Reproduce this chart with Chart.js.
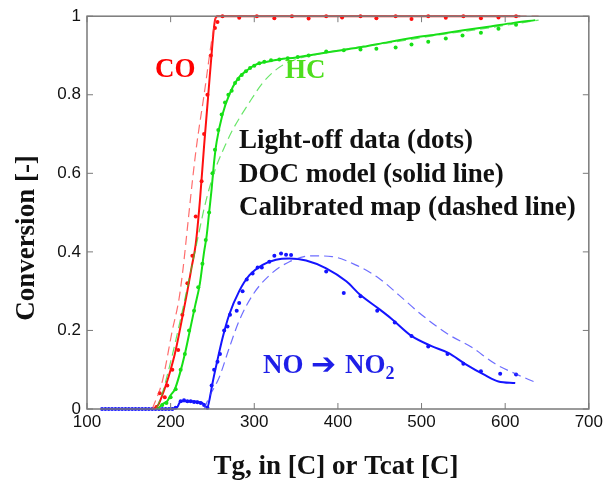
<!DOCTYPE html>
<html>
<head>
<meta charset="utf-8">
<script src="https://cdn.jsdelivr.net/npm/chart.js"></script>
<style>
    html, body { margin: 0; padding: 0; background: #fff; }
    #caixa { width: 606px; height: 484px; }
</style>
</head>
<body>
<div id="caixa"><canvas id="grafico"></canvas></div>
<script>
const xTicks = [100, 200, 300, 400, 500, 600, 700];
const yTicks = [0, 0.2, 0.4, 0.6, 0.8, 1];

// CO
const coModeloT = [180, 185, 190, 195, 200, 205, 210, 215, 220, 225, 230, 235, 240, 245, 250, 253, 256, 300, 400, 500, 600, 618];
const coModelo  = [0, 0.01, 0.035, 0.065, 0.1, 0.14, 0.19, 0.245, 0.3, 0.36, 0.42, 0.53, 0.67, 0.8, 0.93, 0.99, 1, 1, 1, 1, 1, 1];
const coMapaT = [178, 190, 202, 210, 215, 220, 226, 231, 240, 250, 255, 300, 400, 500, 600, 640];
const coMapa  = [0, 0.07, 0.2, 0.28, 0.36, 0.46, 0.58, 0.67, 0.8, 0.95, 1, 1, 1, 1, 1, 1];
const coDadosT = [183, 187, 193, 196, 202, 209, 214, 220, 226, 230, 237, 240, 244, 248, 253, 256, 262, 282, 303, 324, 345, 365, 386, 405, 427, 446, 469, 488, 508, 529, 550, 571, 592, 613];
const coDados  = [0.005, 0.04, 0.03, 0.06, 0.1, 0.15, 0.24, 0.32, 0.39, 0.49, 0.58, 0.7, 0.8, 0.9, 0.97, 0.985, 1, 0.996, 1, 0.995, 1, 0.994, 1, 0.997, 1, 0.995, 1, 0.993, 1, 0.996, 1, 0.995, 0.997, 1];

// HC
const hcModeloT = [185, 190, 196, 200, 205, 211, 217, 223, 229, 235, 240, 243, 246, 249, 252, 255, 262, 270, 280, 290, 300, 310, 330, 350, 370, 400, 430, 460, 490, 520, 550, 580, 610, 636];
const hcModelo  = [0, 0.012, 0.02, 0.035, 0.05, 0.09, 0.14, 0.2, 0.26, 0.32, 0.4, 0.44, 0.5, 0.56, 0.63, 0.68, 0.75, 0.8, 0.84, 0.86, 0.875, 0.882, 0.89, 0.895, 0.902, 0.912, 0.922, 0.934, 0.945, 0.954, 0.964, 0.973, 0.983, 0.99];
const hcMapaT = [183, 190, 200, 213, 222, 231, 240, 246, 255, 265, 274, 285, 294, 310, 330, 350, 380, 420, 470, 520, 570, 610, 640];
const hcMapa  = [0, 0.04, 0.12, 0.24, 0.33, 0.42, 0.51, 0.56, 0.62, 0.67, 0.71, 0.75, 0.78, 0.83, 0.87, 0.89, 0.905, 0.92, 0.935, 0.952, 0.967, 0.98, 0.99];
const hcDadosT = [190, 195, 200, 206, 212, 217, 222, 228, 233, 238, 242, 246, 250, 253, 257, 261, 265, 269, 273, 277, 281, 285, 290, 295, 300, 306, 312, 320, 330, 340, 352, 365, 386, 407, 427, 446, 469, 488, 508, 529, 549, 571, 592, 613];
const hcDados  = [0.01, 0.015, 0.03, 0.05, 0.1, 0.14, 0.2, 0.25, 0.31, 0.37, 0.43, 0.5, 0.6, 0.66, 0.71, 0.75, 0.78, 0.8, 0.81, 0.83, 0.84, 0.85, 0.86, 0.868, 0.874, 0.88, 0.884, 0.888, 0.89, 0.893, 0.896, 0.9, 0.91, 0.913, 0.915, 0.917, 0.92, 0.928, 0.935, 0.943, 0.951, 0.958, 0.968, 0.978];

// NO -> NO2
const noModeloT = [117, 200, 208, 212, 225, 238, 244, 247, 250, 255, 262, 270, 282, 294, 310, 326, 342, 362, 386, 410, 427, 449, 464, 488, 512, 532, 552, 576, 592, 612];
const noModelo  = [0, 0, 0.005, 0.02, 0.02, 0.015, 0.004, 0.03, 0.065, 0.115, 0.18, 0.24, 0.3, 0.34, 0.367, 0.38, 0.383, 0.378, 0.358, 0.325, 0.29, 0.255, 0.23, 0.186, 0.16, 0.143, 0.115, 0.086, 0.07, 0.066];
const noMapaT = [240, 246, 258, 270, 282, 298, 318, 342, 369, 393, 421, 449, 473, 500, 532, 560, 588, 612, 636];
const noMapa  = [0, 0.03, 0.08, 0.155, 0.225, 0.29, 0.34, 0.375, 0.39, 0.388, 0.367, 0.333, 0.29, 0.24, 0.19, 0.157, 0.115, 0.09, 0.068];
const noDadosT = [118, 122, 126, 130, 134, 138, 142, 146, 150, 154, 158, 162, 166, 170, 174, 178, 182, 186, 190, 194, 198, 202, 206, 212, 216, 220, 224, 228, 232, 236, 240, 244, 249, 252, 256, 259, 264, 268, 271, 279, 282, 286, 291, 298, 304, 309, 318, 324, 332, 338, 344, 386, 407, 427, 447, 468, 488, 508, 531, 550, 571, 594, 613];
const noDados  = [0, 0, 0, 0, 0, 0, 0, 0, 0, 0, 0, 0, 0, 0, 0, 0, 0, 0, 0, 0, 0, 0, 0.003, 0.02, 0.022, 0.02, 0.02, 0.018, 0.017, 0.015, 0.01, 0.003, 0.06, 0.1, 0.12, 0.14, 0.2, 0.21, 0.24, 0.25, 0.27, 0.3, 0.33, 0.345, 0.36, 0.36, 0.375, 0.39, 0.396, 0.393, 0.392, 0.35, 0.295, 0.287, 0.25, 0.22, 0.186, 0.159, 0.14, 0.115, 0.096, 0.09, 0.088];

const VERMELHO = '#ff1010';
const VERDE = '#16e016';
const AZUL = '#1414ff';

function pares(xs, ys) {
    return xs.map((x, i) => ({ x: x, y: ys[i] }));
}

function linha(xs, ys, cor, largura, tracejado) {
    return {
        data: pares(xs, ys),
        showLine: true,
        borderColor: cor,
        borderWidth: largura,
        borderDash: tracejado || [],
        pointRadius: 0,
        cubicInterpolationMode: 'monotone',
        clip: 4
    };
}

function pontos(xs, ys, cor) {
    return {
        data: pares(xs, ys),
        showLine: false,
        pointRadius: 2,
        pointBorderWidth: 0,
        pointBackgroundColor: cor,
        clip: 4
    };
}

// moldura com ticks para dentro nos quatro lados
const moldura = {
    id: 'moldura',
    afterDatasetsDraw(chart) {
        const { ctx, chartArea: a, scales } = chart;
        ctx.save();
        ctx.strokeStyle = '#7a7a7a';
        ctx.lineWidth = 1.5;
        ctx.strokeRect(a.left, a.top, a.right - a.left, a.bottom - a.top);
        ctx.lineWidth = 1;
        ctx.beginPath();
        xTicks.forEach(v => {
            const px = scales.x.getPixelForValue(v);
            ctx.moveTo(px, a.bottom); ctx.lineTo(px, a.bottom - 6);
            ctx.moveTo(px, a.top); ctx.lineTo(px, a.top + 6);
        });
        yTicks.forEach(v => {
            const py = scales.y.getPixelForValue(v);
            ctx.moveTo(a.left, py); ctx.lineTo(a.left + 6, py);
            ctx.moveTo(a.right, py); ctx.lineTo(a.right - 6, py);
        });
        ctx.stroke();
        ctx.restore();
    }
};

// rótulos, títulos dos eixos e legenda em texto
const textos = {
    id: 'textos',
    afterDraw(chart) {
        const ctx = chart.ctx;
        const serif = 'bold 27px "Liberation Serif", "Times New Roman", serif';
        ctx.save();
        ctx.textBaseline = 'alphabetic';
        ctx.font = serif;

        ctx.fillStyle = '#ff0000';
        ctx.fillText('CO', 155, 77);
        ctx.fillStyle = '#4ede1e';
        ctx.fillText('HC', 285, 78);

        ctx.fillStyle = '#111';
        ctx.fillText('Light-off data (dots)', 239, 148);
        ctx.fillText('DOC model (solid line)', 239, 182);
        ctx.fillText('Calibrated map (dashed line)', 239, 215);

        // NO -> NO2
        ctx.fillStyle = '#1e1ee8';
        ctx.fillText('NO', 263, 373);
        ctx.font = 'bold 30px "DejaVu Sans"';
        ctx.fillText('\u2794', 311, 374);
        ctx.font = serif;
        ctx.fillText('NO', 345, 373);
        const fimNO = 345 + ctx.measureText('NO').width;
        ctx.font = 'bold 18px "Liberation Serif", serif';
        ctx.fillText('2', fimNO, 379);

        // títulos dos eixos
        ctx.font = serif;
        ctx.fillStyle = '#111';
        ctx.textAlign = 'center';
        ctx.fillText('Tg, in [C] or Tcat [C]', 336, 474);
        ctx.translate(34, 238);
        ctx.rotate(-Math.PI / 2);
        ctx.fillText('Conversion [-]', 0, 0);
        ctx.restore();
    }
};

const ctx = document.getElementById('grafico');

new Chart(ctx, {
    type: 'scatter',
    data: {
        datasets: [
            linha(coMapaT, coMapa, 'rgba(255, 60, 60, 0.75)', 1.2, [9, 5]),
            linha(hcMapaT, hcMapa, 'rgba(40, 220, 40, 0.7)', 1.2, [9, 5]),
            linha(noMapaT, noMapa, 'rgba(60, 60, 255, 0.75)', 1.2, [9, 5]),
            linha(coModeloT, coModelo, VERMELHO, 2),
            linha(hcModeloT, hcModelo, VERDE, 2),
            linha(noModeloT, noModelo, AZUL, 2),
            pontos(coDadosT, coDados, VERMELHO),
            pontos(hcDadosT, hcDados, VERDE),
            pontos(noDadosT, noDados, AZUL)
        ]
    },
    options: {
        responsive: true,
        maintainAspectRatio: false,
        animation: false,
        layout: { padding: { top: 12, right: 15, left: 0, bottom: 0 } },
        scales: {
            x: {
                type: 'linear',
                min: 100,
                max: 700,
                afterBuildTicks: s => { s.ticks = xTicks.map(v => ({ value: v })); },
                afterFit: s => { s.height = 75; },
                grid: { display: false, drawTicks: false },
                border: { display: false },
                ticks: {
                    color: '#111',
                    padding: 3,
                    maxRotation: 0,
                    font: { family: '"Liberation Sans", Arial, sans-serif', size: 17 }
                }
            },
            y: {
                min: 0,
                max: 1,
                afterBuildTicks: s => { s.ticks = yTicks.map(v => ({ value: v })); },
                afterFit: s => { s.width = 87; },
                grid: { display: false, drawTicks: false },
                border: { display: false },
                ticks: {
                    color: '#111',
                    padding: 6,
                    font: { family: '"Liberation Sans", Arial, sans-serif', size: 17 },
                    callback: v => String(v)
                }
            }
        },
        plugins: {
            legend: { display: false },
            tooltip: { enabled: false }
        }
    },
    plugins: [moldura, textos]
});
</script>
</body>
</html>
